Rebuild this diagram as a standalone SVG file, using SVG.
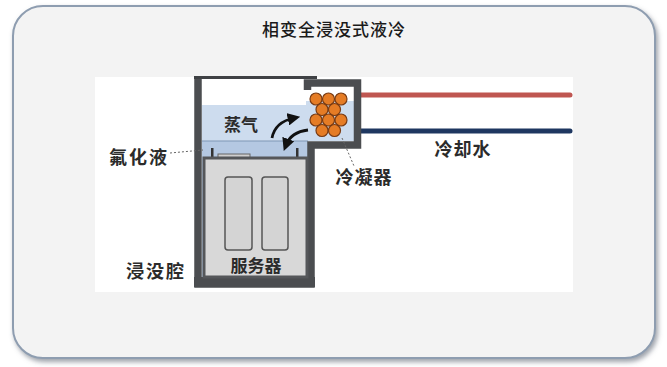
<svg xmlns="http://www.w3.org/2000/svg" width="667" height="367" viewBox="0 0 667 367">
  <defs>
    <filter id="panelShadow" x="-5%" y="-5%" width="112%" height="115%">
      <feDropShadow dx="2" dy="3" stdDeviation="2.5" flood-color="#5a6470" flood-opacity="0.6"/>
    </filter>
    <marker id="arrowHead" viewBox="0 0 10 10" refX="5" refY="5" markerWidth="4.5" markerHeight="4.5" orient="auto">
      <path d="M0,0 L10,5 L0,10 z" fill="#111"/>
    </marker>
    <style>
      .lbl { font-family: "Noto Sans CJK SC", "Noto Sans", sans-serif; font-weight: bold; fill: #2b2b2b; }
      .title { font-family: "Noto Sans CJK SC", "Noto Sans", sans-serif; font-weight: 500; fill: #1a1a1a; }
      .wall { fill: none; stroke: #4b4d50; stroke-width: 7.5; stroke-linejoin: miter; }
      .coil { fill: #e57c25; stroke: #7a3b12; stroke-width: 1.2; }
      .leader { fill: none; stroke: #666; stroke-width: 1; stroke-dasharray: 2 2; }
      .flow { fill: none; stroke: #111; stroke-width: 2.8; marker-end: url(#arrowHead); }
      .slot { fill: #d4d4d4; stroke: #555; stroke-width: 1.5; }
    </style>
  </defs>

  <!-- outer panel -->
  <rect x="13" y="6" width="642" height="352" rx="30" ry="30" fill="#f3f3f3" stroke="#8e9db0" stroke-width="2" filter="url(#panelShadow)"/>
  <text class="title" x="334" y="36" font-size="17" text-anchor="middle" letter-spacing="1">相变全浸没式液冷</text>

  <!-- drawing area -->
  <rect x="95" y="77" width="478" height="215" fill="#ffffff"/>

  <!-- cooling water pipes -->
  <g id="pipes">
    <line x1="357" y1="95" x2="570" y2="95" stroke="#bf5651" stroke-width="5" stroke-linecap="round"/>
    <line x1="357" y1="131" x2="570" y2="131" stroke="#1e3760" stroke-width="5" stroke-linecap="round"/>
  </g>

  <!-- immersion tank -->
  <g id="tank">
    <!-- vapour space -->
    <rect x="202" y="105" width="106" height="37" fill="#cddcee"/>
    <rect x="306" y="101" width="48" height="40" fill="#cddcee"/>
    <!-- coolant liquid -->
    <rect x="202" y="141" width="106" height="140" fill="#b4c8e2"/>
    <line x1="202" y1="141" x2="308" y2="141" stroke="#7f97b5" stroke-width="1"/>
    <!-- tank walls -->
    <path class="wall" d="M198,78 V284 H311 V145 H357.5 V83 H307.5 V90"/>
    <rect x="194" y="277" width="121" height="10" fill="#4b4d50"/>
    <!-- lid -->
    <line x1="194" y1="77.5" x2="317" y2="77.5" stroke="#3f4144" stroke-width="3"/>
  </g>

  <!-- server -->
  <g id="server">
    <rect x="211" y="148" width="2.5" height="10" fill="#333"/>
    <rect x="296" y="148" width="2.5" height="10" fill="#333"/>
    <rect x="218" y="154" width="32" height="4" fill="#cfcfcf" stroke="#666" stroke-width="1"/>
    <rect x="204" y="158" width="103" height="119" fill="#d8d8d8" stroke="#55575a" stroke-width="3"/>
    <rect class="slot" x="225" y="177" width="27" height="73" rx="3"/>
    <rect class="slot" x="262" y="177" width="26" height="73" rx="3"/>
    <text class="lbl" x="256" y="272" font-size="17" text-anchor="middle">服务器</text>
  </g>

  <!-- condenser coil -->
  <g id="condenser">
    <circle class="coil" cx="316" cy="99" r="6"/>
    <circle class="coil" cx="328.5" cy="99" r="6"/>
    <circle class="coil" cx="341" cy="99" r="6"/>
    <circle class="coil" cx="322" cy="109.5" r="6"/>
    <circle class="coil" cx="334.5" cy="109.5" r="6"/>
    <circle class="coil" cx="316" cy="120" r="6"/>
    <circle class="coil" cx="328.5" cy="120" r="6"/>
    <circle class="coil" cx="341" cy="120" r="6"/>
    <circle class="coil" cx="322" cy="130.5" r="6"/>
    <circle class="coil" cx="334.5" cy="130.5" r="6"/>
  </g>

  <!-- vapour / condensate flow and label leaders -->
  <g id="connectors">
    <path class="flow" d="M272,138 Q275,122 294,118"/>
    <path class="flow" d="M308,130 Q291,132 286,145"/>
    <path class="leader" d="M170,153 L203,150"/>
    <path class="leader" d="M342,138 L354,166"/>
  </g>

  <!-- labels -->
  <g id="labels">
    <text class="lbl" x="241" y="131" font-size="17" text-anchor="middle">蒸气</text>
    <text class="lbl" x="139" y="164" font-size="18" text-anchor="middle" letter-spacing="2">氟化液</text>
    <text class="lbl" x="156" y="278" font-size="18" text-anchor="middle" letter-spacing="2">浸没腔</text>
    <text class="lbl" x="463" y="156" font-size="18" text-anchor="middle" letter-spacing="1">冷却水</text>
    <text class="lbl" x="364" y="184" font-size="18" text-anchor="middle" letter-spacing="1">冷凝器</text>
  </g>
</svg>
